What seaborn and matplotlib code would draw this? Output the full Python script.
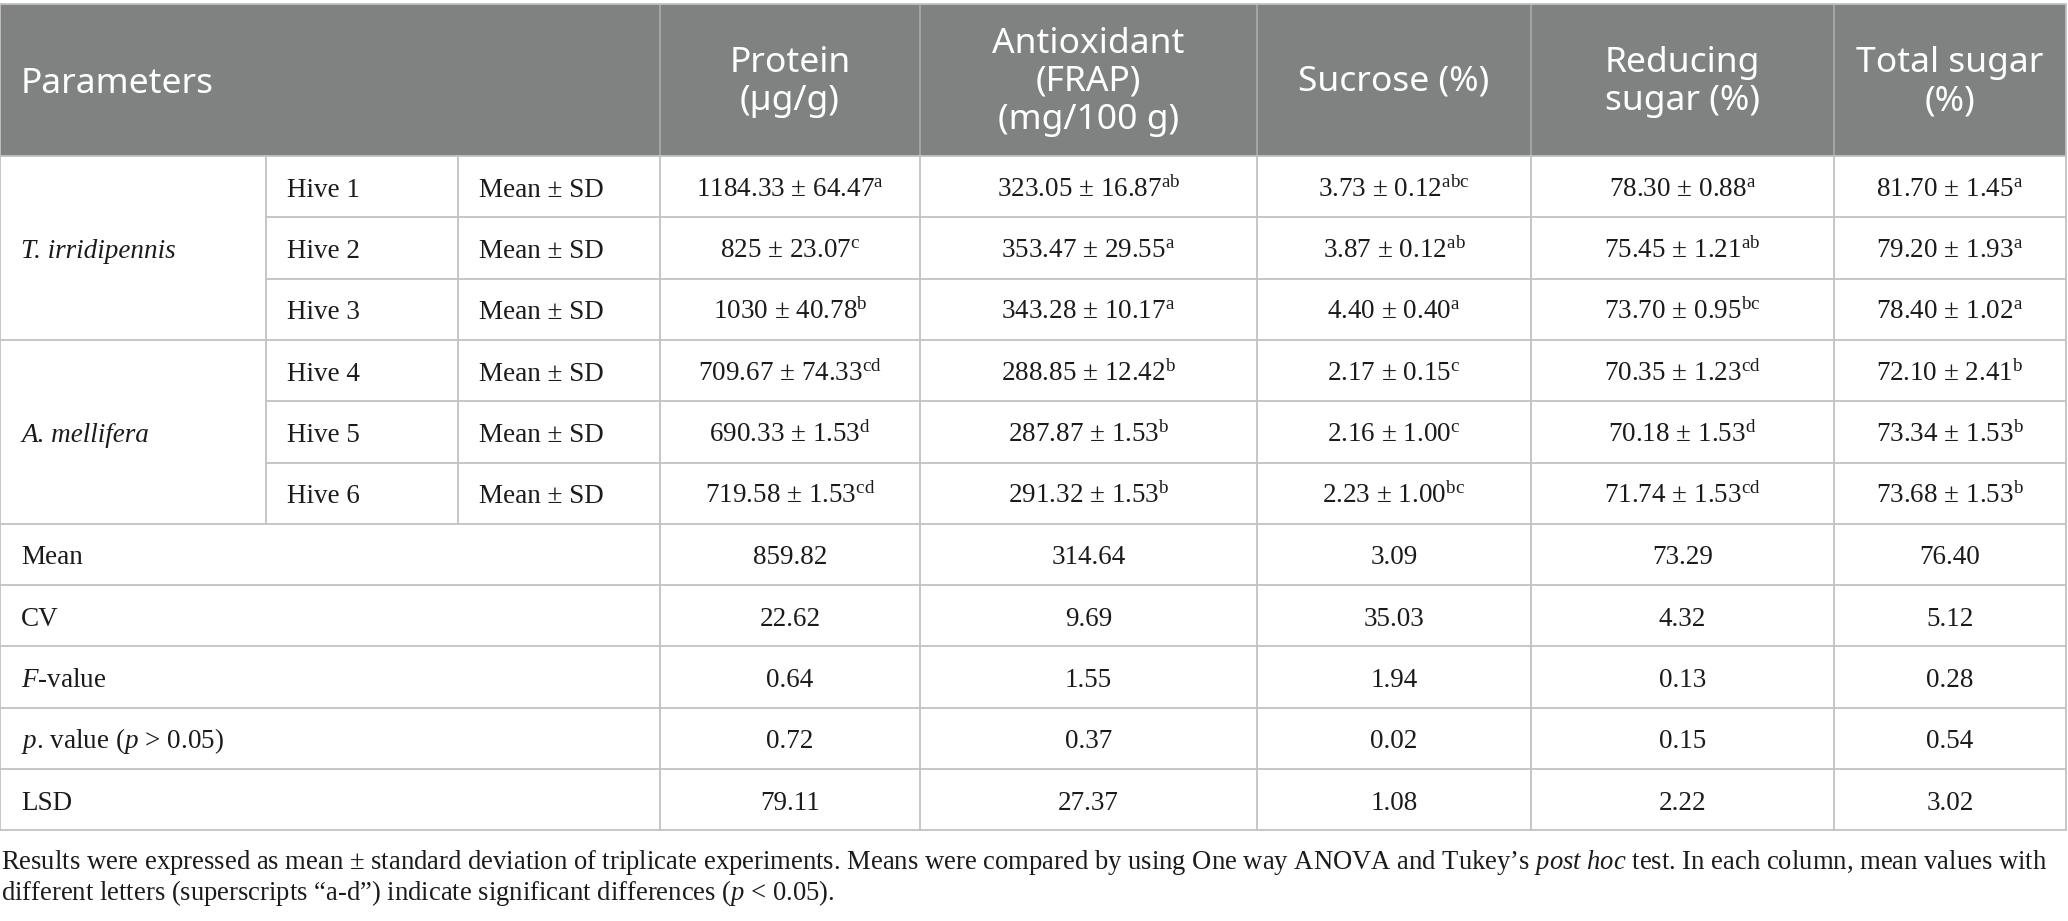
import matplotlib
matplotlib.use("Agg")
import matplotlib.pyplot as plt
from matplotlib.patches import Rectangle
import seaborn as sns

# ---------------------------------------------------------------
# table content
# ---------------------------------------------------------------
species = ["T. irridipennis", "A. mellifera"]
hives = ["Hive 1", "Hive 2", "Hive 3", "Hive 4", "Hive 5", "Hive 6"]
stat_label = "Mean ± SD"

header_first = "Parameters"
header_cols = ["Protein\n(µg/g)", "Antioxidant\n(FRAP)\n(mg/100 g)", "Sucrose (%)",
               "Reducing\nsugar (%)", "Total sugar\n(%)"]

protein = ["1184.33 ± 64.47", "825 ± 23.07", "1030 ± 40.78",
           "709.67 ± 74.33", "690.33 ± 1.53", "719.58 ± 1.53"]
protein_sup = ["a", "c", "b", "cd", "d", "cd"]
antioxidant = ["323.05 ± 16.87", "353.47 ± 29.55", "343.28 ± 10.17",
               "288.85 ± 12.42", "287.87 ± 1.53", "291.32 ± 1.53"]
antioxidant_sup = ["ab", "a", "a", "b", "b", "b"]
sucrose = ["3.73 ± 0.12", "3.87 ± 0.12", "4.40 ± 0.40",
           "2.17 ± 0.15", "2.16 ± 1.00", "2.23 ± 1.00"]
sucrose_sup = ["abc", "ab", "a", "c", "c", "bc"]
reducing = ["78.30 ± 0.88", "75.45 ± 1.21", "73.70 ± 0.95",
            "70.35 ± 1.23", "70.18 ± 1.53", "71.74 ± 1.53"]
reducing_sup = ["a", "ab", "bc", "cd", "d", "cd"]
total = ["81.70 ± 1.45", "79.20 ± 1.93", "78.40 ± 1.02",
         "72.10 ± 2.41", "73.34 ± 1.53", "73.68 ± 1.53"]
total_sup = ["a", "a", "a", "b", "b", "b"]

summary_labels = ["Mean", "CV", r"$\mathit{F}$-value",
                  r"$\mathit{p}$. value ($\mathit{p}$ > 0.05)", "LSD"]
summary_mean = ["859.82", "314.64", "3.09", "73.29", "76.40"]
summary_cv = ["22.62", "9.69", "35.03", "4.32", "5.12"]
summary_f = ["0.64", "1.55", "1.94", "0.13", "0.28"]
summary_p = ["0.72", "0.37", "0.02", "0.15", "0.54"]
summary_lsd = ["79.11", "27.37", "1.08", "2.22", "3.02"]

footnote = [
    "Results were expressed as mean ± standard deviation of triplicate experiments. "
    "Means were compared by using One way ANOVA and Tukey’s $\\mathit{post\\ hoc}$ test. "
    "In each column, mean values with",
    "different letters (superscripts “a-d”) indicate significant differences "
    "($\\mathit{p}$ < 0.05).",
]

# ---------------------------------------------------------------
# style
# ---------------------------------------------------------------
sns.set_theme(style="white")
plt.rcParams["mathtext.fontset"] = "custom"
plt.rcParams["mathtext.rm"] = "Liberation Serif"
plt.rcParams["mathtext.it"] = "Liberation Serif:italic"
plt.rcParams["mathtext.bf"] = "Liberation Serif:bold"

HEAD_BG = "#808281"
HEAD_LINE = "#a6a8a7"
GRID = "#c2c2c2"
INK = "#1b1b1b"
SERIF = "Liberation Serif"
SANS = "Noto Sans"
BODY_FS = 19.5
HEAD_FS = 25.5

W, H = 2068, 921
col_x = [0, 266, 458, 660, 920, 1257, 1531, 1834, 2066]
head_top, head_bot = 4, 156
row_h = 61.3
n_rows = len(hives) + len(summary_labels)
row_y = [head_bot + i * row_h for i in range(n_rows + 1)]
foot_y = [869, 900]

fig = plt.figure(figsize=(W / 100, H / 100), dpi=100)
ax = fig.add_axes([0, 0, 1, 1])
ax.set_xlim(0, W)
ax.set_ylim(H, 0)
ax.axis("off")

lw = 1.3

# header band
ax.add_patch(Rectangle((col_x[0], head_top), col_x[-1] - col_x[0], head_bot - head_top,
                       facecolor=HEAD_BG, edgecolor="none", zorder=1))
for x in col_x[3:-1]:
    ax.plot([x, x], [head_top, head_bot], color=HEAD_LINE, lw=lw, zorder=2)
ax.plot([col_x[0], col_x[-1]], [head_top, head_top], color=GRID, lw=lw, zorder=3)

head_mid = (head_top + head_bot) / 2
ax.text(col_x[0] + 21, head_mid + 4, header_first, ha="left", va="center",
        color="white", fontsize=HEAD_FS, family=SANS)
for j, lab in enumerate(header_cols):
    cx = (col_x[j + 3] + col_x[j + 4]) / 2
    ax.text(cx, head_mid + 2, lab, ha="center", va="center", color="white",
            fontsize=HEAD_FS, family=SANS, linespacing=1.17, multialignment="center")

# grid lines of the body
n_hive = len(hives)
for i, y in enumerate(row_y):
    inner = 0 < i < n_hive and i % 3 != 0
    x0 = col_x[1] if inner else col_x[0]
    ax.plot([x0, col_x[-1]], [y, y], color=GRID, lw=lw, zorder=3)
for k, x in enumerate(col_x):
    y1 = row_y[n_hive] if k in (1, 2) else row_y[-1]
    y0 = head_top if k in (0, len(col_x) - 1) else head_bot
    ax.plot([x, x], [y0, y1], color=GRID, lw=lw, zorder=3)


def baseline(i0, i1=None):
    i1 = i0 + 1 if i1 is None else i1
    return (row_y[i0] + row_y[i1]) / 2 + 10


# species and hive rows
for s, name in enumerate(species):
    ax.text(col_x[0] + 21, baseline(3 * s, 3 * s + 3), name, ha="left", va="baseline",
            color=INK, fontsize=BODY_FS, family=SERIF, style="italic")

value_cols = [(protein, protein_sup), (antioxidant, antioxidant_sup), (sucrose, sucrose_sup),
              (reducing, reducing_sup), (total, total_sup)]
for i, hive in enumerate(hives):
    yb = baseline(i)
    ax.text(col_x[1] + 21, yb, hive, ha="left", va="baseline", color=INK,
            fontsize=BODY_FS, family=SERIF)
    ax.text(col_x[2] + 21, yb, stat_label, ha="left", va="baseline", color=INK,
            fontsize=BODY_FS, family=SERIF)
    for j, (vals, sups) in enumerate(value_cols):
        cx = (col_x[j + 3] + col_x[j + 4]) / 2
        ax.text(cx, yb, vals[i] + r"$^{\mathrm{" + sups[i] + "}}$", ha="center",
                va="baseline", color=INK, fontsize=BODY_FS, family=SERIF)

# summary rows
summary_vals = [summary_mean, summary_cv, summary_f, summary_p, summary_lsd]
for r, lab in enumerate(summary_labels):
    yb = baseline(n_hive + r)
    ax.text(col_x[0] + 21, yb, lab, ha="left", va="baseline", color=INK,
            fontsize=BODY_FS, family=SERIF)
    for j, v in enumerate(summary_vals[r]):
        cx = (col_x[j + 3] + col_x[j + 4]) / 2
        ax.text(cx, yb, v, ha="center", va="baseline", color=INK,
                fontsize=BODY_FS, family=SERIF)

# footnote, fitted to the width of the first line
foot = [ax.text(1, foot_y[k], line, ha="left", va="baseline", color=INK,
                fontsize=BODY_FS, family=SERIF) for k, line in enumerate(footnote)]
fig.canvas.draw()
rend = fig.canvas.get_renderer()
w0 = foot[0].get_window_extent(rend).width
for t in foot:
    t.set_fontsize(BODY_FS * 2050 / w0)

fig.savefig("out.png", dpi=100, facecolor="white")
